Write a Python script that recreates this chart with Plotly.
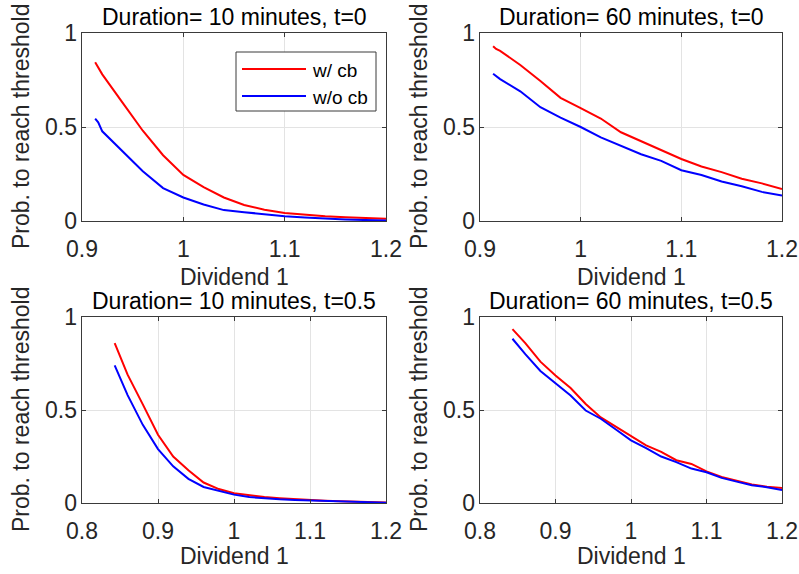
import plotly.graph_objects as go

# ---- data ----
x_t0 = [0.913, 0.916, 0.92, 0.94, 0.96, 0.98, 1.00, 1.02, 1.04, 1.06, 1.08, 1.10, 1.12, 1.14, 1.16, 1.18, 1.20]
d10_t0_cb = [0.845, 0.82, 0.78, 0.63, 0.48, 0.35, 0.245, 0.18, 0.125, 0.085, 0.06, 0.042, 0.032, 0.025, 0.02, 0.015, 0.012]
d10_t0_nocb = [0.545, 0.525, 0.477, 0.37, 0.265, 0.175, 0.125, 0.088, 0.058, 0.047, 0.035, 0.025, 0.018, 0.012, 0.008, 0.005, 0.003]
d60_t0_cb = [0.93, 0.915, 0.905, 0.83, 0.745, 0.655, 0.60, 0.545, 0.472, 0.425, 0.38, 0.33, 0.29, 0.26, 0.225, 0.20, 0.17]
d60_t0_nocb = [0.783, 0.77, 0.755, 0.69, 0.605, 0.55, 0.50, 0.445, 0.40, 0.355, 0.32, 0.27, 0.245, 0.21, 0.185, 0.155, 0.135]

x_t05 = [0.843, 0.86, 0.88, 0.90, 0.92, 0.94, 0.96, 0.98, 1.00, 1.02, 1.04, 1.06, 1.08, 1.10, 1.12, 1.14, 1.16, 1.18, 1.20]
d10_t05_cb = [0.86, 0.69, 0.53, 0.367, 0.25, 0.176, 0.11, 0.075, 0.052, 0.04, 0.032, 0.026, 0.02, 0.016, 0.012, 0.009, 0.006, 0.004, 0.003]
d10_t05_nocb = [0.74, 0.58, 0.42, 0.29, 0.197, 0.13, 0.086, 0.065, 0.045, 0.032, 0.025, 0.02, 0.016, 0.013, 0.01, 0.007, 0.005, 0.003, 0.002]
d60_t05_cb = [0.935, 0.86, 0.76, 0.686, 0.618, 0.532, 0.46, 0.41, 0.358, 0.31, 0.275, 0.23, 0.21, 0.17, 0.14, 0.12, 0.10, 0.088, 0.08]
d60_t05_nocb = [0.883, 0.80, 0.71, 0.645, 0.578, 0.497, 0.453, 0.395, 0.337, 0.295, 0.25, 0.22, 0.185, 0.165, 0.135, 0.115, 0.095, 0.085, 0.07]

titles = ["Duration= 10 minutes, t=0", "Duration= 60 minutes, t=0",
          "Duration= 10 minutes, t=0.5", "Duration= 60 minutes, t=0.5"]
series_names = ["w/ cb", "w/o cb"]
series_colors = ["#ff0000", "#0000ff"]
xticks_t0 = [0.9, 1.0, 1.1, 1.2]
xticks_t05 = [0.8, 0.9, 1.0, 1.1, 1.2]
yticks = [0, 0.5, 1]

W, H = 799, 574
# panel boxes in pixels (left, right, top, bottom)
boxes = [(82, 386, 33, 221), (480, 782, 33, 221), (82, 386, 317, 503), (480, 782, 317, 503)]
title_y = [17, 17, 301, 301]
xtitle_y = [277, 277, 556, 556]

panels = [
    (x_t0, d10_t0_cb, d10_t0_nocb, [0.9, 1.2], xticks_t0),
    (x_t0, d60_t0_cb, d60_t0_nocb, [0.9, 1.2], xticks_t0),
    (x_t05, d10_t05_cb, d10_t05_nocb, [0.8, 1.2], xticks_t05),
    (x_t05, d60_t05_cb, d60_t05_nocb, [0.8, 1.2], xticks_t05),
]

FONT = "Liberation Sans, Arial, sans-serif"
TXT = "#262626"
AX = "#3a3a3a"
FS = 23
px = lambda v: v / W
py = lambda v: 1 - v / H

fig = go.Figure()
layout = dict(width=W, height=H, margin=dict(l=0, r=0, t=0, b=0, pad=0, autoexpand=False),
              paper_bgcolor="white", plot_bgcolor="white",
              font=dict(family=FONT, size=FS, color=TXT), showlegend=False)
annotations = []
shapes = []
for i, ((xs, ycb, ync, xr, xt), (l, r, t, b)) in enumerate(zip(panels, boxes)):
    n = i + 1
    xa = "x" if n == 1 else f"x{n}"
    ya = "y" if n == 1 else f"y{n}"
    for ys, nm, col in zip([ycb, ync], series_names, series_colors):
        fig.add_trace(go.Scatter(x=xs, y=ys, mode="lines", line=dict(color=col, width=2),
                                 name=nm, xaxis=xa, yaxis=ya))
    axcommon = dict(showline=True, mirror="ticks", linecolor=AX, linewidth=1,
                    ticks="inside", ticklen=4, tickcolor=AX, showgrid=True, automargin=False,
                    gridcolor="#e3e3e3", zeroline=False, tickfont=dict(size=FS, color=TXT))
    layout["xaxis" if n == 1 else f"xaxis{n}"] = dict(
        axcommon, domain=[px(l), px(r)], range=xr, tickvals=xt, ticklabelstandoff=7,
        ticktext=[f"{v:g}" for v in xt], anchor=ya)
    layout["yaxis" if n == 1 else f"yaxis{n}"] = dict(
        axcommon, domain=[py(b), py(t)], range=[0, 1], tickvals=yticks, showticklabels=False,
        anchor=xa)
    # tick-label-only axis sharing the panel's y scale
    layout[f"yaxis{n + 4}"] = dict(
        overlaying=ya, anchor="free", position=px(l - 5), range=[0, 1], tickvals=yticks,
        ticktext=[f"{v:g}" for v in yticks], showline=False, showgrid=False, zeroline=False,
        ticks="", automargin=False, tickfont=dict(size=FS, color=TXT))
    cx = px((l + r) / 2)
    annotations.append(dict(text=titles[i], x=cx, y=py(title_y[i]),
                            xref="paper", yref="paper", showarrow=False,
                            xanchor="center", yanchor="middle", font=dict(size=FS, color="black")))
    annotations.append(dict(text="Dividend 1", x=cx, y=py(xtitle_y[i]),
                            xref="paper", yref="paper", showarrow=False,
                            xanchor="center", yanchor="middle", font=dict(size=FS, color=TXT)))
    annotations.append(dict(text="Prob. to reach threshold", x=px(l - 61), y=py((t + b) / 2),
                            xref="paper", yref="paper", showarrow=False, textangle=-90,
                            xanchor="center", yanchor="middle", font=dict(size=FS, color=TXT)))

# dummy invisible traces so the label axes are drawn
for n in range(1, 5):
    xa = "x" if n == 1 else f"x{n}"
    fig.add_trace(go.Scatter(x=[None], y=[None], xaxis=xa, yaxis=f"y{n + 4}", hoverinfo="skip"))

# legend box (first panel)
shapes.append(dict(type="rect", xref="paper", yref="paper", x0=px(236), x1=px(376), y0=py(111), y1=py(52),
                   line=dict(color=AX, width=1), fillcolor="white", layer="above"))
for k, (nm, col) in enumerate(zip(series_names, series_colors)):
    yy = [69, 96][k]
    shapes.append(dict(type="line", xref="paper", yref="paper", x0=px(242), x1=px(306), y0=py(yy), y1=py(yy),
                       line=dict(color=col, width=2), layer="above"))
    annotations.append(dict(text=nm, x=px(310), y=py(yy + 1), xref="paper", yref="paper", showarrow=False,
                            xanchor="left", yanchor="middle", font=dict(size=19, color="black")))

layout["annotations"] = annotations
layout["shapes"] = shapes
fig.update_layout(**layout)
fig.write_html("out.html", config={"displayModeBar": False},
               post_script="document.body.style.margin='0px';")
